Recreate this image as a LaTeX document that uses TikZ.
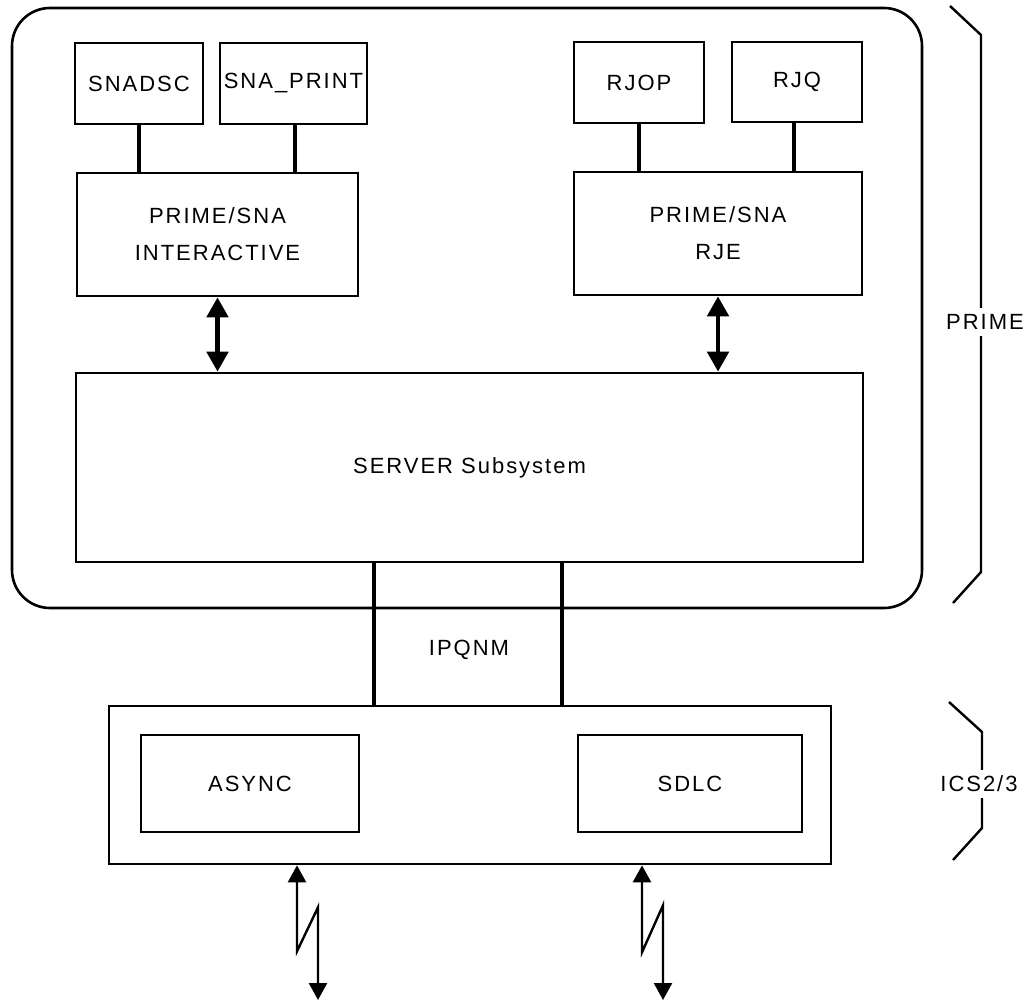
\documentclass[tikz,border=0pt]{standalone}
\usepackage{fontspec}
\setmainfont[LetterSpace=9]{Liberation Sans}
\usetikzlibrary{arrows.meta}
\tikzset{
  every node/.style={font=\fontsize{11}{18.5}\selectfont},
  box/.style={draw, line width=1.3pt, align=center, inner sep=0pt},
  link/.style={line width=2.4pt},
  dblarrow/.style={line width=2.4pt,
    {Triangle[width=10.5pt,length=10pt]}-{Triangle[width=10.5pt,length=10pt]}},
  zigline/.style={line width=1.2pt,
    {Triangle[width=9pt,length=8.5pt]}-{Triangle[width=9pt,length=8.5pt]}},
  brace/.style={line width=1.2pt},
  bracelabel/.style={fill=white, inner xsep=0pt, inner ysep=3pt}
}

\begin{document}
\begin{tikzpicture}[x=0.5pt, y=-0.5pt]
    \useasboundingbox (0,0) rectangle (1036,1001);
    % PRIME side
    \node[box, rounded corners=19pt, minimum width=455pt, minimum height=300pt] (prime) at (467,308) {};
    \node[box, minimum width=64pt, minimum height=40.5pt] (snadsc) at (139,83.5) {SNADSC};
    \node[box, minimum width=73.5pt, minimum height=40.5pt] (snaprint) at (293.5,83.5) {SNA\_PRINT};
    \node[box, minimum width=140.5pt, minimum height=61.5pt] (inter) at (217.5,234.5) {PRIME/SNA\\INTERACTIVE};
    \node[box, minimum width=65pt, minimum height=40.5pt] (rjop) at (639,82.5) {RJOP};
    \node[box, minimum width=65pt, minimum height=40pt] (rjq) at (797,82) {RJQ};
    \node[box, minimum width=144pt, minimum height=61.5pt] (rje) at (718,233.5) {PRIME/SNA\\RJE};
    \node[box, minimum width=393.5pt, minimum height=94.5pt] (server) at (469.5,467.5) {SERVER Subsystem};
    % ICS side
    \node[box, minimum width=361pt, minimum height=79pt] (ics) at (470,785) {};
    \node[box, minimum width=109pt, minimum height=48.5pt] (async) at (250,783.5) {ASYNC};
    \node[box, minimum width=112pt, minimum height=48.5pt] (sdlc) at (690,783.5) {SDLC};
    \node (ipqnm) at (469,650) {IPQNM};
    \coordinate (aout) at (318,1000);
    \coordinate (sout) at (663,1000);

    \draw[link] (snadsc.south) -- (snadsc.south |- inter.north);
    \draw[link] ([xshift=0.75pt]snaprint.south) -- ([xshift=0.75pt]snaprint.south |- inter.north);
    \draw[link] (rjop.south) -- (rjop.south |- rje.north);
    \draw[link] ([xshift=-1.5pt]rjq.south) -- ([xshift=-1.5pt]rjq.south |- rje.north);
    \draw[dblarrow] (inter.south) -- (inter.south |- server.north);
    \draw[dblarrow] (rje.south) -- (rje.south |- server.north);
    \draw[link] ([xshift=-47.75pt]server.south) -- ([xshift=-47.75pt]server.south |- ics.north);
    \draw[link] ([xshift=46.25pt]server.south) -- ([xshift=46.25pt]server.south |- ics.north);
    \draw[zigline] ([xshift=-86.5pt]ics.south) -- ++(0,86) -- ++(21,-44) -- (aout);
    \draw[zigline] ([xshift=86pt]ics.south) -- ++(0,87) -- ++(21,-47) -- (sout);

    % braces
    \draw[brace] (950,6) -- (981,35) -- (981,572) -- (953,603);
    \node[bracelabel] (primelbl) at (985,322) {PRIME};
    \draw[brace] (949,702) -- (982,732) -- (982,828) -- (953,860);
    \node[bracelabel] (icslbl) at (979,784) {ICS2/3};
\end{tikzpicture}
\end{document}
